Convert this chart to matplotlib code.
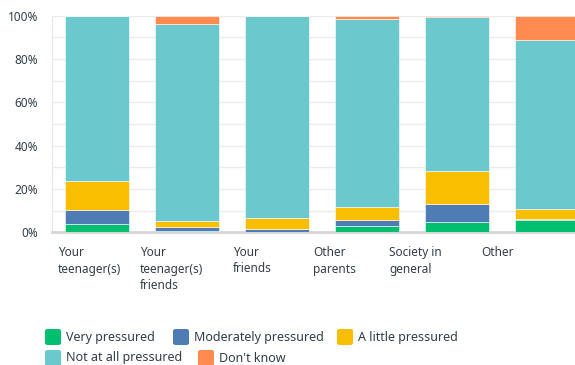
import matplotlib
matplotlib.use("Agg")
import matplotlib.pyplot as plt
from matplotlib.patches import FancyBboxPatch
import numpy as np

plt.rcParams['font.family'] = ['Noto Sans', 'DejaVu Sans']

categories = ["Your\nteenager(s)", "Your\nteenager(s)\nfriends", "Your\nfriends",
              "Other\nparents", "Society in\ngeneral", "Other"]
series_names = ["Very pressured", "Moderately pressured", "A little pressured",
                "Not at all pressured", "Don't know"]
very = [4.0, 0.5, 0.3, 3.0, 4.6, 5.8]
moderately = [6.5, 2.0, 1.2, 2.5, 8.3, 0.4]
a_little = [13.0, 2.6, 5.1, 6.2, 15.5, 4.4]
not_at_all = [76.5, 90.9, 93.4, 86.8, 70.8, 78.0]
dont_know = [0.0, 4.0, 0.0, 1.5, 0.8, 11.4]
yticks = [0, 20, 40, 60, 80, 100]

colors = ["#00bf6f", "#507cb6", "#f9be00", "#6bc8cd", "#ff8b4f"]
text_color = "#333e48"

fig = plt.figure(figsize=(5.75, 3.65), dpi=100)
ax = fig.add_axes([52 / 575, 1 - 232.3 / 365, 540 / 575, 216.6 / 365])

x = np.arange(len(categories))
bottom = np.zeros(len(categories))
for vals, col in zip([very, moderately, a_little, not_at_all, dont_know], colors):
    ax.bar(x, vals, bottom=bottom, width=0.72, color=col, edgecolor="white",
           linewidth=0.4, zorder=3)
    bottom += np.array(vals)

ax.set_xlim(-0.5, len(categories) - 0.5)
ax.set_ylim(0, 100)
ax.set_yticks(yticks)
ax.set_yticklabels([f"{v}%" for v in yticks], fontsize=8.5, color=text_color,
                   fontweight="semibold")
ax.set_yticks(range(0, 101, 10), minor=True)
ax.grid(axis="y", which="both", color="#ececec", linewidth=1, zorder=0)
ax.tick_params(axis="y", which="both", length=0, pad=10)
ax.tick_params(axis="x", length=0)
ax.set_xticks([])
for s in ["top", "right"]:
    ax.spines[s].set_visible(False)
ax.spines["left"].set_color("#e6e6e6")
ax.spines["bottom"].set_color("#d6d6d6")
ax.spines["bottom"].set_linewidth(2)

# category labels sit slightly left of the bars, as in the source
label_px = [58, 140, 233, 313, 389, 481]
for lab, px in zip(categories, label_px):
    fig.text(px / 575, 1 - 246 / 365, lab, ha="left", va="top",
             fontsize=8.5, color=text_color, linespacing=1.35,
             fontweight="medium")

# legend
legend_pos = [(45, 337), (173, 337), (337, 337), (45, 358), (198, 358)]
for name, col, (px, py) in zip(series_names, colors, legend_pos):
    w, h = 16 / 575, 16 / 365
    fig.patches.append(FancyBboxPatch((px / 575, 1 - py / 365 - h / 2), w, h,
                                      boxstyle="round,pad=0,rounding_size=0.005",
                                      transform=fig.transFigure, facecolor=col,
                                      edgecolor="none"))
    fig.text((px + 21) / 575, 1 - py / 365, name, ha="left", va="center",
             fontsize=9, color=text_color, fontweight="medium")

fig.savefig("out.png", dpi=100)
